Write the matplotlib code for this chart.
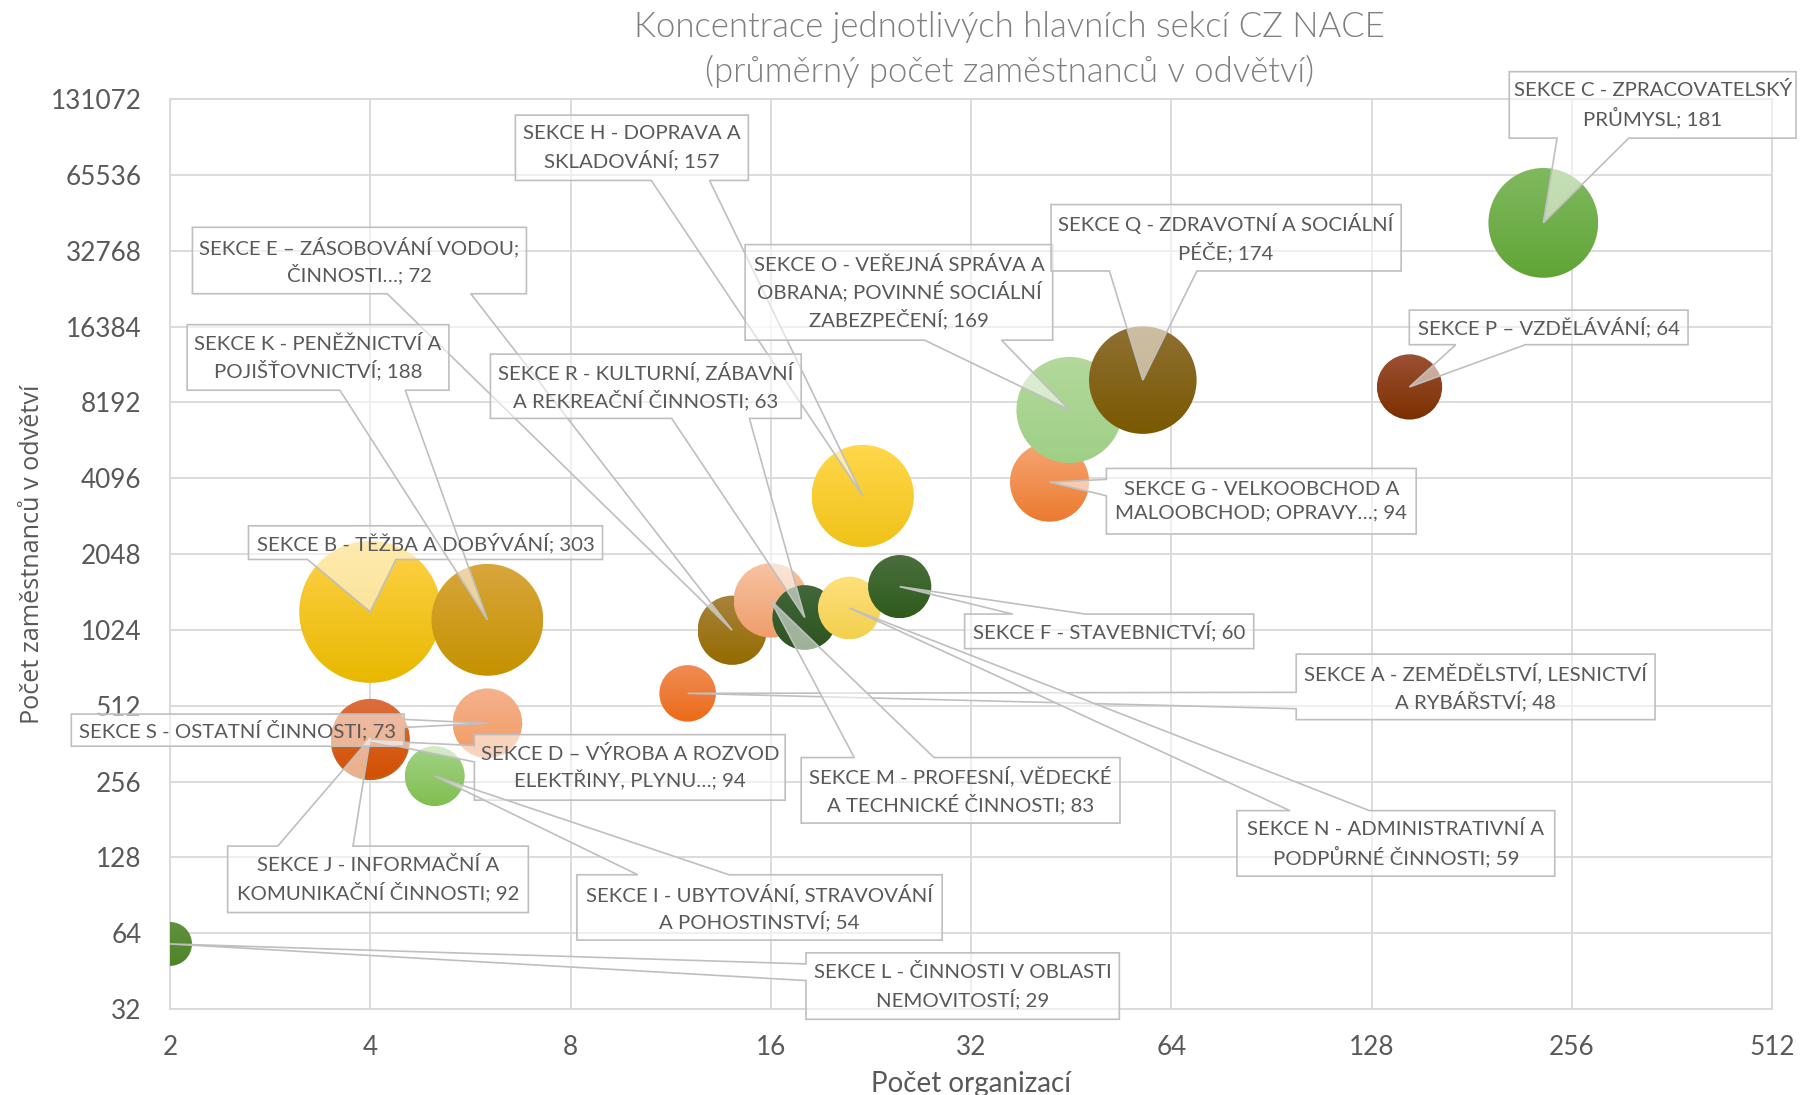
import numpy as np
import matplotlib
matplotlib.use("Agg")
import matplotlib.pyplot as plt
from matplotlib.patches import Circle, Polygon
from matplotlib.transforms import ScaledTranslation
from matplotlib.image import AxesImage
from matplotlib.colors import LinearSegmentedColormap
from matplotlib.ticker import NullLocator

# ---------------------------------------------------------------- data
sections = ["A", "B", "C", "D", "E", "F", "G", "H", "I", "J",
            "K", "L", "M", "N", "O", "P", "Q", "R", "S"]
section_names = [
    "SEKCE A - ZEMĚDĚLSTVÍ, LESNICTVÍ\nA RYBÁŘSTVÍ",
    "SEKCE B - TĚŽBA A DOBÝVÁNÍ",
    "SEKCE C - ZPRACOVATELSKÝ\nPRŮMYSL",
    "SEKCE D – VÝROBA A ROZVOD\nELEKTŘINY, PLYNU…",
    "SEKCE E – ZÁSOBOVÁNÍ VODOU;\nČINNOSTI…",
    "SEKCE F - STAVEBNICTVÍ",
    "SEKCE G - VELKOOBCHOD A\nMALOOBCHOD; OPRAVY…",
    "SEKCE H - DOPRAVA A\nSKLADOVÁNÍ",
    "SEKCE I - UBYTOVÁNÍ, STRAVOVÁNÍ\nA POHOSTINSTVÍ",
    "SEKCE J - INFORMAČNÍ A\nKOMUNIKAČNÍ ČINNOSTI",
    "SEKCE K - PENĚŽNICTVÍ A\nPOJIŠŤOVNICTVÍ",
    "SEKCE L - ČINNOSTI V OBLASTI\nNEMOVITOSTÍ",
    "SEKCE M - PROFESNÍ, VĚDECKÉ\nA TECHNICKÉ ČINNOSTI",
    "SEKCE N - ADMINISTRATIVNÍ A\nPODPŮRNÉ ČINNOSTI",
    "SEKCE O - VEŘEJNÁ SPRÁVA A\nOBRANA; POVINNÉ SOCIÁLNÍ\nZABEZPEČENÍ",
    "SEKCE P – VZDĚLÁVÁNÍ",
    "SEKCE Q - ZDRAVOTNÍ A SOCIÁLNÍ\nPÉČE",
    "SEKCE R - KULTURNÍ, ZÁBAVNÍ\nA REKREAČNÍ ČINNOSTI",
    "SEKCE S - OSTATNÍ ČINNOSTI",
]
organizations = [12, 4, 232, 4, 14, 25, 42, 22, 5, 4, 6, 2, 16, 21, 45, 146, 58, 18, 6]
avg_employees = [573, 1207, 42240, 372, 1020, 1520, 3950, 3480, 269, 381,
                 1122, 58, 1340, 1250, 7640, 9430, 10040, 1146, 436]
bubble_values = [48, 303, 181, 94, 72, 60, 94, 157, 54, 92,
                 188, 29, 83, 59, 169, 64, 174, 63, 73]
x_ticks = [2, 4, 8, 16, 32, 64, 128, 256, 512]
y_ticks = [32, 64, 128, 256, 512, 1024, 2048, 4096, 8192,
           16384, 32768, 65536, 131072]

title = "Koncentrace jednotlivých hlavních sekcí CZ NACE\n(průměrný počet zaměstnanců v odvětví)"
x_label = "Počet organizací"
y_label = "Počet zaměstnanců v odvětví"

# ---------------------------------------------------------------- styles
# bubble gradient colours (bottom, top)
bubble_colors = {
    "A": ("#ec6a18", "#f08c55"), "B": ("#e8b800", "#ffd24a"),
    "C": ("#60a436", "#80b95f"), "D": ("#c55a11", "#d9703a"),
    "E": ("#946b00", "#a8833c"), "F": ("#2e5c1b", "#4b6f3e"),
    "G": ("#ec7a30", "#f6a673"), "H": ("#f0c218", "#ffd84c"),
    "I": ("#7fbf4f", "#a2d286"), "J": ("#d35000", "#dc6e3e"),
    "K": ("#c59200", "#d8a63c"), "L": ("#4e8527", "#62903f"),
    "M": ("#ef9d6a", "#f7c3a2"), "N": ("#f2d04e", "#ffe07c"),
    "O": ("#9fcf86", "#b3d99c"), "P": ("#7b2f00", "#9b5133"),
    "Q": ("#795900", "#8f7033"), "R": ("#2c531f", "#41673b"),
    "S": ("#f19b64", "#f5b28c"),
}
# callout boxes in axes fraction: left, bottom, width, height
label_boxes = {
    "A": (0.703, 0.318, 0.224, 0.072), "B": (0.049, 0.494, 0.221, 0.037),
    "C": (0.836, 0.957, 0.179, 0.073), "D": (0.190, 0.2295, 0.194, 0.072),
    "E": (0.014, 0.786, 0.2085, 0.073), "F": (0.496, 0.396, 0.1805, 0.038),
    "G": (0.5845, 0.522, 0.1934, 0.072), "H": (0.2156, 0.9105, 0.1454, 0.0718),
    "I": (0.254, 0.0757, 0.228, 0.0718), "J": (0.036, 0.106, 0.1877, 0.073),
    "K": (0.0107, 0.680, 0.1634, 0.072), "L": (0.397, -0.0113, 0.1956, 0.073),
    "M": (0.394, 0.2043, 0.199, 0.072), "N": (0.666, 0.146, 0.1984, 0.072),
    "O": (0.359, 0.735, 0.192, 0.105), "P": (0.7736, 0.730, 0.174, 0.038),
    "Q": (0.550, 0.811, 0.2185, 0.073), "R": (0.200, 0.649, 0.194, 0.0707),
    "S": (-0.0616, 0.2888, 0.2077, 0.0353),
}

FONT = ["Lato", "DejaVu Sans"]
TEXT_GREY = "#595959"
GRID = "#d9d9d9"
MAX_BUBBLE_DIAM_IN = 1.42   # diameter of the largest bubble, inches

DPI = 100
fig = plt.figure(figsize=(18, 10.95), dpi=DPI)
ax = fig.add_axes([170 / 1800, 1 - 1009 / 1095, 1602 / 1800, 910 / 1095])

ax.set_xscale("log", base=2)
ax.set_yscale("log", base=2)
ax.set_xlim(x_ticks[0], x_ticks[-1])
ax.set_ylim(y_ticks[0], y_ticks[-1])
ax.set_xticks(x_ticks, labels=[str(t) for t in x_ticks])
ax.set_yticks(y_ticks, labels=[str(t) for t in y_ticks])
ax.xaxis.set_minor_locator(NullLocator())
ax.yaxis.set_minor_locator(NullLocator())
ax.tick_params(length=0, labelsize=18.8, labelcolor=TEXT_GREY)
ax.tick_params(axis="x", pad=19)
ax.tick_params(axis="y", pad=20.5)
for lab in ax.get_xticklabels() + ax.get_yticklabels():
    lab.set_family(FONT)
ax.grid(True, color=GRID, linewidth=1.3)
ax.set_axisbelow(True)
for sp in ax.spines.values():
    sp.set_color(GRID)
    sp.set_linewidth(1.3)

ax.set_xlabel(x_label, fontsize=20, color=TEXT_GREY, family=FONT, va="center")
ax.xaxis.set_label_coords(0.5, -0.082)
ax.set_ylabel(y_label, fontsize=18.2, color=TEXT_GREY,
              family=["Open Sans", "DejaVu Sans"], va="center")
ax.yaxis.set_label_coords(-0.086, 0.5)
fig.text(0.5606, 0.990, title, ha="center", va="top", fontsize=25,
         color="#7f7f7f", family=FONT, fontweight=300, linespacing=1.45)

# ---------------------------------------------------------------- bubbles
# bubbles with more organizations are drawn on top of those with fewer
vmax = max(bubble_values)
grad = np.linspace(0, 1, 256).reshape(-1, 1)
draw_rank = {i: k for k, i in enumerate(np.argsort(organizations, kind="stable"))}
for i, (sec, x, y, v) in enumerate(zip(sections, organizations, avg_employees, bubble_values)):
    r = MAX_BUBBLE_DIAM_IN / 2 * np.sqrt(v / vmax)
    place = fig.dpi_scale_trans + ScaledTranslation(x, y, ax.transData)
    circ = Circle((0, 0), r, transform=place, facecolor="none", edgecolor="none")
    ax.add_patch(circ)
    cmap = LinearSegmentedColormap.from_list(sec, list(bubble_colors[sec]))
    im = AxesImage(ax, cmap=cmap, origin="lower", extent=(-r, r, -r, r),
                   interpolation="bilinear")
    im.set_data(grad)
    im.set_transform(place)
    im.set_zorder(3 + draw_rank[i] * 0.01)
    ax.add_image(im)
    im.set_clip_box(ax.bbox)
    im.set_clip_path(circ)

# ---------------------------------------------------------------- callouts
to_axes = ax.transAxes.inverted()


def callout_polygon(box, apex_px):
    """Rectangle with a wedge pointing at apex_px (display pixels)."""
    l, b, w, h = box
    (x0, y0), (x1, y1) = ax.transAxes.transform([(l, b), (l + w, b + h)])
    W, H = x1 - x0, y1 - y0
    cx, cy = (x0 + x1) / 2, (y0 + y1) / 2
    dx, dy_down = apex_px[0] - cx, cy - apex_px[1]
    dq = abs(dx) * H / W
    top = [(x0, y1)]
    right = [(x1, y1)]
    bottom = [(x1, y0)]
    left = [(x0, y0)]
    if abs(dy_down) > dq:
        a, c = (7 / 12, 10 / 12) if dx > 0 else (2 / 12, 5 / 12)
        if dy_down > 0:
            bottom += [(x0 + W * c, y0), tuple(apex_px), (x0 + W * a, y0)]
        else:
            top += [(x0 + W * a, y1), tuple(apex_px), (x0 + W * c, y1)]
    else:
        a, c = (7 / 12, 10 / 12) if dy_down > 0 else (2 / 12, 5 / 12)
        if dx > 0:
            right += [(x1, y1 - H * a), tuple(apex_px), (x1, y1 - H * c)]
        else:
            left += [(x0, y1 - H * c), tuple(apex_px), (x0, y1 - H * a)]
    verts = np.array(top + right + bottom + left)
    return to_axes.transform(verts)


for sec, name, x, y, v in zip(sections, section_names, organizations, avg_employees, bubble_values):
    box = label_boxes[sec]
    apex = ax.transData.transform((x, y))
    poly = Polygon(callout_polygon(box, apex), closed=True, transform=ax.transAxes,
                   facecolor=(1, 1, 1, 0.55), edgecolor="#bfbfbf", linewidth=1.2,
                   zorder=10, clip_on=False)
    ax.add_patch(poly)
    ax.text(box[0] + box[2] / 2, box[1] + box[3] / 2, f"{name}; {v}",
            transform=ax.transAxes, ha="center", va="center", fontsize=14.7,
            color=TEXT_GREY, family=FONT, linespacing=1.4, zorder=11)

fig.savefig("out.png", dpi=DPI)
